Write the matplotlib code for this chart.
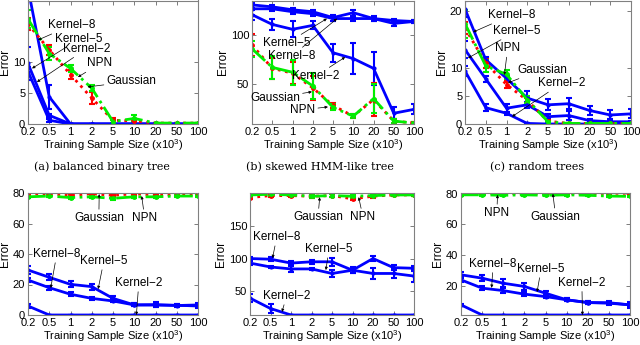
import matplotlib
matplotlib.use("Agg")
import matplotlib.pyplot as plt
import numpy as np

plt.rcParams['font.family'] = ['Liberation Sans', 'DejaVu Sans']
plt.rcParams['mathtext.fontset'] = 'custom'
plt.rcParams['mathtext.rm'] = 'Liberation Sans'

x_labels = ['0.2', '0.5', '1', '2', '5', '10', '20', '50', '100']

# (a) balanced binary tree
a_k8 = [22, 4.4, 0, 0, 0, 0, 0, 0, 0]
a_k8_e = [0, 1.9, 0, 0, 0, 0, 0, 0, 0]
a_k5 = [9.8, 1.4, 0, 0, 0, 0, 0, 0, 0]
a_k5_e = [2.7, 0.3, 0, 0, 0, 0, 0, 0, 0]
a_k2 = [8.5, 0.6, 0, 0, 0, 0, 0, 0, 0]
a_k2_e = [0.8, 0.2, 0, 0, 0, 0, 0, 0, 0]
a_npn = [16.2, 12.0, 8.0, 4.2, 0.6, 0.5, 0.15, 0.15, 0.15]
a_npn_e = [1.0, 0.8, 0.7, 1.0, 0.4, 0.2, 0, 0, 0]
a_gau = [17.0, 11.4, 9.0, 5.8, 0.4, 0.9, 0.15, 0.15, 0.15]
a_gau_e = [1.5, 1.0, 0.6, 0.5, 0.2, 0.5, 0, 0, 0]

# (b) skewed HMM-like tree
b_k8 = [131, 129, 126, 124, 118, 123, 117, 112, 114]
b_k8_e = [3, 2, 2, 2, 3, 3, 3, 3, 2]
b_k5 = [127, 127, 124, 122, 117, 117, 117, 115, 114]
b_k5_e = [6, 2, 2, 2, 2, 2, 2, 2, 2]
b_k2 = [121, 111, 106, 110, 82, 76, 66, 20, 24]
b_k2_e = [5, 6, 8, 4, 9, 16, 17, 6, 5]
b_npn = [90, 66, 61, 46, 28, 17, 34, 12, 10]
b_npn_e = [11, 11, 11, 12, 3, 2, 17, 2, 1]
b_gau = [86, 67, 62, 48, 26, 17, 35, 12, 10]
b_gau_e = [8, 12, 13, 13, 3, 2, 15, 2, 1]

# (c) random trees
c_k8 = [20.4, 11.4, 8.1, 4.6, 3.4, 3.6, 2.4, 1.6, 1.8]
c_k8_e = [1.5, 0.5, 0.5, 1.2, 1.0, 1.0, 0.8, 0.8, 0.8]
c_k5 = [13.2, 8.0, 2.8, 3.4, 1.3, 1.5, 0.6, 0.4, 0.4]
c_k5_e = [1.5, 0.6, 0.8, 0.5, 0.5, 0.8, 0.3, 0.2, 0.2]
c_k2 = [9.4, 2.9, 1.9, 0.1, 0, 0, 0, 0, 0]
c_k2_e = [0.8, 0.6, 0.3, 0, 0, 0, 0, 0, 0]
c_npn = [17.0, 10.8, 7.0, 4.2, 0.5, 0.1, 0.1, 0.1, 0.1]
c_npn_e = [1.0, 0.8, 0.6, 0.4, 0.2, 0, 0, 0, 0]
c_gau = [17.8, 10.3, 8.8, 4.3, 0.4, 0.1, 0.1, 0.1, 0.1]
c_gau_e = [2.5, 1.0, 0.8, 0.6, 0.2, 0, 0, 0, 0]

# (d)
d_k5 = [29.5, 24.7, 20.1, 18.6, 10.9, 6.6, 6.8, 6.2, 6.6]
d_k5_e = [2.5, 2, 2, 2, 1.5, 1, 1.5, 1, 1.5]
d_k8 = [22.9, 17.9, 13.6, 10.9, 9.2, 6.6, 6.5, 6.4, 5.9]
d_k8_e = [1.5, 1.2, 1.2, 1, 1, 1, 1, 1, 1]
d_k2 = [5.9, 0, 0, 0, 0, 0, 0, 0, 0]
d_k2_e = [1, 0, 0, 0, 0, 0, 0, 0, 0]
d_npn = [79.5, 79.5, 78.5, 79.5, 78.5, 79.5, 78.8, 78.8, 79.5]
d_npn_e = [0.5] * 9
d_gau = [77.5, 78, 77, 77.5, 76.5, 77.5, 77.5, 78, 78]
d_gau_e = [0.8] * 9

# (e)
e_k8 = [100, 99, 93, 95, 95, 82, 100, 86, 85]
e_k8_e = [3, 3, 3, 3, 6, 4, 4, 4, 4]
e_k5 = [93, 87, 84, 84, 77, 82, 77, 77, 73]
e_k5_e = [3, 2, 4, 2, 5, 5, 8, 7, 9]
e_k2 = [39, 23, 13, 13, 13, 13, 13, 13, 13]
e_k2_e = [6, 7, 0, 0, 0, 0, 0, 0, 0]
e_npn = [194, 197, 197, 196, 197, 192, 196, 198, 198]
e_npn_e = [2] * 9
e_gau = [198, 199, 198, 196, 197, 196, 197, 198, 198]
e_gau_e = [2] * 9

# (f)
f_k5 = [27.2, 25.0, 21.7, 19.6, 15.2, 10.9, 9.1, 9.0, 7.6]
f_k5_e = [1.5, 2, 2.5, 2.5, 1.5, 1, 1, 1, 2]
f_k8 = [23.9, 18.5, 16.9, 14.6, 13.0, 10.9, 9.1, 8.7, 7.6]
f_k8_e = [1.2, 1.2, 1.5, 1.2, 1, 1, 1, 1, 1]
f_k2 = [7.6, 1, 1, 1, 1, 1, 1, 1, 1]
f_k2_e = [0.8, 0, 0, 0, 0, 0, 0, 0, 0]
f_npn = [80.3, 80.3, 80.2, 80.0, 80.3, 80.2, 80.0, 80.3, 80.3]
f_npn_e = [0.4] * 9
f_gau = [79.3, 79.3, 79.0, 79.3, 79.0, 79.3, 79.0, 78.5, 78.3]
f_gau_e = [0.5] * 9

W, H = 640, 345
fig = plt.figure(figsize=(6.4, 3.45), dpi=100)

def mkax(l, r, t, b):
    return fig.add_axes([l / W, (H - b) / H, (r - l) / W, (b - t) / H])

FS = 8.5
TFS = 8
x = np.arange(1, 10)

def panel(ax, k8, k8e, k5, k5e, k2, k2e, npn, npne, gau, gaue, ylim, yticks, annots):
    for y, e in [(k2, k2e), (k5, k5e), (k8, k8e)]:
        ax.errorbar(x, y, yerr=e, color='#0000ff', lw=2, elinewidth=1.5,
                    capsize=2, capthick=1.5, marker='.', ms=4)
    ax.errorbar(x, npn, yerr=npne, color='#ff0000', lw=2, ls=':', elinewidth=1.5,
                capsize=2, capthick=1.5, marker='.', ms=5)
    ax.errorbar(x, gau, yerr=gaue, color='#00ee00', lw=2, ls='-.', elinewidth=1.5,
                capsize=2, capthick=1.5, marker='.', ms=5)
    ax.set_xlim(1, 9)
    ax.set_ylim(*ylim)
    ax.set_xticks(x)
    ax.set_xticklabels(x_labels)
    ax.set_yticks(yticks)
    ax.tick_params(direction='in', length=3, width=0.6, top=True, right=True,
                   labelsize=TFS, pad=2, color='0.4')
    for s in ax.spines.values():
        s.set_color('0.5')
        s.set_linewidth(0.8)
    ax.set_ylabel('Error', fontsize=FS, labelpad=1)
    ax.set_xlabel('Training Sample Size (x10$^3$)', fontsize=TFS, labelpad=0)
    for txt, xy, xyt in annots:
        ax.annotate(txt, xy=xy, xytext=xyt, fontsize=FS, ha='left', va='center',
                    arrowprops=dict(arrowstyle='-|>', lw=0.5, color='k',
                                    mutation_scale=4, shrinkA=0, shrinkB=0),
                    annotation_clip=False)

axa = mkax(28, 198, 0.5, 124)
panel(axa, a_k8, a_k8_e, a_k5, a_k5_e, a_k2, a_k2_e, a_npn, a_npn_e, a_gau, a_gau_e,
      (0, 20), [0, 5, 10],
      [('Kernel\u22128', (1.47, 13.6), (1.94, 16.0)),
       ('Kernel\u22125', (1.19, 9.0), (2.27, 13.7)),
       ('Kernel\u22122', (1.42, 6.8), (2.65, 12.2)),
       ('NPN', (3.35, 7.6), (3.8, 9.8)),
       ('Gaussian', (3.8, 6.0), (4.7, 6.9))])

axb = mkax(252, 414, 0.5, 124)
panel(axb, b_k8, b_k8_e, b_k5, b_k5_e, b_k2, b_k2_e, b_npn, b_npn_e, b_gau, b_gau_e,
      (9, 135.5), [50, 100],
      [('Kernel\u22125', (4.7, 117), (1.55, 91.8)),
       ('Kernel\u22128', (5.2, 117), (1.8, 78.6)),
       ('Kernel\u22122', (5.6, 77.5), (2.98, 58)),
       ('Gaussian', (3.96, 42), (0.9, 35.7)),
       ('NPN', (4.75, 26.5), (2.88, 23.5))])

axc = mkax(465, 631, 0.5, 124)
panel(axc, c_k8, c_k8_e, c_k5, c_k5_e, c_k2, c_k2_e, c_npn, c_npn_e, c_gau, c_gau_e,
      (0, 21.9), [0, 5, 10, 20],
      [('Kernel\u22128', (1.39, 16.3), (2.1, 19.3)),
       ('Kernel\u22125', (1.15, 11.7), (2.35, 16.5)),
       ('NPN', (2.9, 8.7), (2.45, 13.4)),
       ('Gaussian', (3.07, 7.3), (3.5, 9.6)),
       ('Kernel\u22122', (3.27, 1.3), (4.5, 7.2))])

axd = mkax(28, 198, 193, 315)
panel(axd, d_k8, d_k8_e, d_k5, d_k5_e, d_k2, d_k2_e, d_npn, d_npn_e, d_gau, d_gau_e,
      (0, 80), [0, 20, 40, 60, 80],
      [('Gaussian', (4.35, 79.3), (3.16, 63.6)),
       ('NPN', (6.35, 78), (5.9, 63.6)),
       ('Kernel\u22128', (2.07, 17.7), (1.24, 40)),
       ('Kernel\u22125', (4.3, 17), (3.45, 35.4)),
       ('Kernel\u22122', (6.1, 0), (5.1, 21))])

axe = mkax(250, 414, 193, 315)
panel(axe, e_k8, e_k8_e, e_k5, e_k5_e, e_k2, e_k2_e, e_npn, e_npn_e, e_gau, e_gau_e,
      (13, 201), [50, 100, 150],
      [('Gaussian', (4.4, 194.6), (3.1, 163.8)),
       ('NPN', (6.3, 194.6), (5.9, 163.8)),
       ('Kernel\u22128', (2.1, 100.8), (1.15, 133)),
       ('Kernel\u22125', (4.7, 82.3), (3.7, 114.6)),
       ('Kernel\u22122', (2.56, 17.7), (1.63, 42.3))])

axf = mkax(461, 630, 193, 315)
panel(axf, f_k8, f_k8_e, f_k5, f_k5_e, f_k2, f_k2_e, f_npn, f_npn_e, f_gau, f_gau_e,
      (1, 80.5), [20, 40, 60, 80],
      [('NPN', (2.73, 79.3), (2.1, 67.5)),
       ('Gaussian', (5.35, 80), (4.3, 65)),
       ('Kernel\u22128', (2.45, 18.7), (1.4, 34.3)),
       ('Kernel\u22125', (4.6, 16), (3.67, 31)),
       ('Kernel\u22122', (6.75, 1), (5.6, 22))])

cap_y = (H - 167) / H
fig.text(102 / W, cap_y, '(a) balanced binary tree', ha='center', va='center',
         fontsize=8, family='DejaVu Serif')
fig.text(320 / W, cap_y, '(b) skewed HMM-like tree', ha='center', va='center',
         fontsize=8, family='DejaVu Serif')
fig.text(537 / W, cap_y, '(c) random trees', ha='center', va='center',
         fontsize=8, family='DejaVu Serif')

fig.savefig('out.png', dpi=100)
